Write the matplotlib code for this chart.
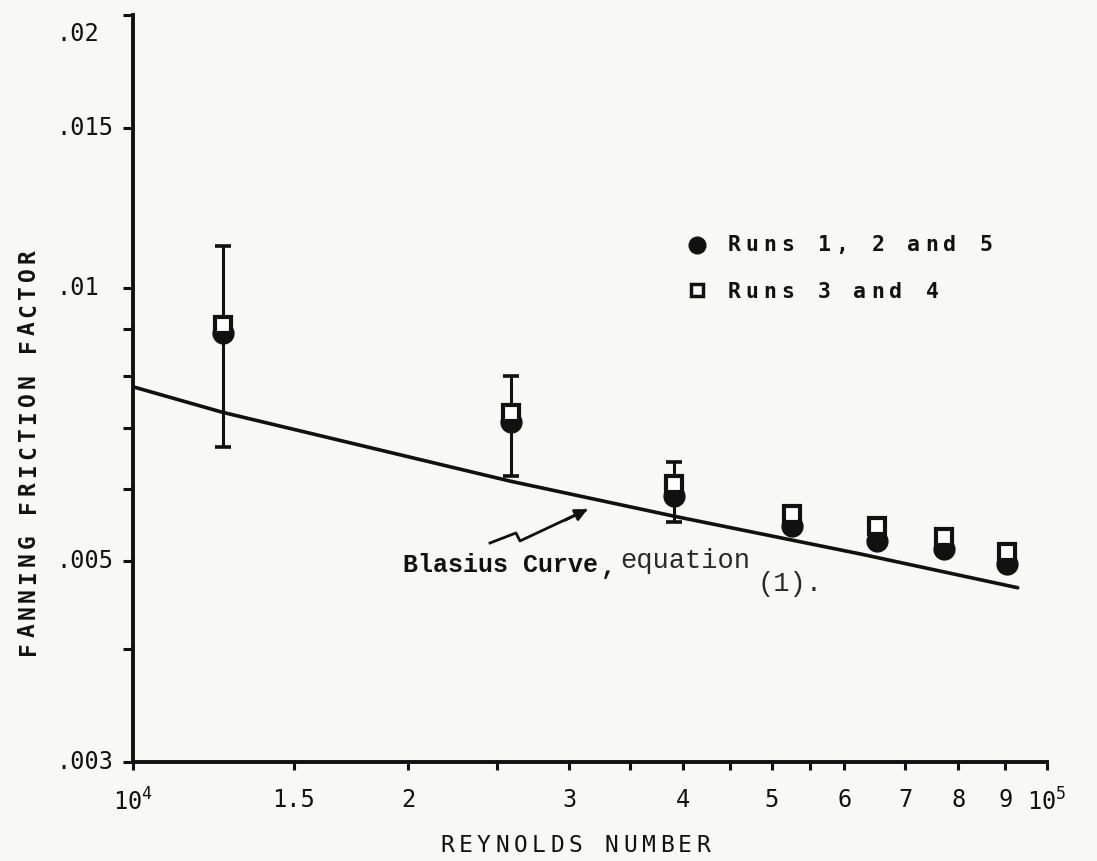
import matplotlib
matplotlib.use('Agg')
import matplotlib.pyplot as plt

plt.rcParams['font.family'] = ['DejaVu Sans Mono']
plt.rcParams['mathtext.fontset'] = 'custom'
plt.rcParams['mathtext.rm'] = 'DejaVu Sans Mono'

INK = '#111111'
PAPER = '#f8f8f6'

# test points (Reynolds number)
re_points = [1.254e4, 2.59e4, 3.91e4, 5.26e4, 6.52e4, 7.71e4, 9.04e4]
# fanning friction factor, runs 1, 2 and 5 (filled circles)
f_runs125 = [0.00892, 0.00711, 0.00589, 0.00546, 0.00526, 0.00515, 0.00496]
# fanning friction factor, runs 3 and 4 (open squares)
f_runs34 = [0.00911, 0.00727, 0.00608, 0.00563, 0.00546, 0.00531, 0.00511]

# scatter bands on the first three points
re_err = [1.254e4, 2.59e4, 3.91e4]
f_err_low = [0.00667, 0.00620, 0.00552]
f_err_high = [0.01112, 0.00800, 0.00642]

# blasius curve
re_blasius = [1.0e4, 1.254e4, 2.59e4, 3.91e4, 6.24e4, 9.29e4]
f_blasius = [0.00778, 0.00729, 0.00612, 0.00560, 0.00509, 0.00467]

# axis ticks
x_ticks = [1e4, 1.5e4, 2e4, 2.5e4, 3e4, 3.5e4, 4e4, 4.5e4, 5e4, 5.5e4, 6e4, 7e4, 8e4, 9e4, 1e5]
x_labels = [r'$\mathregular{10^4}$', '1.5', '2', '', '3', '', '4', '', '5', '', '6', '7', '8', '9',
            r'$\mathregular{10^5}$']
y_ticks = [0.003, 0.004, 0.005, 0.006, 0.007, 0.008, 0.009, 0.01, 0.015, 0.02]
y_label_vals = [0.003, 0.005, 0.01, 0.015, 0.02]
y_label_text = ['.003', '.005', '.01', '.015', '.02']

W, H = 1097, 861
fig = plt.figure(figsize=(W / 100, H / 100), dpi=100, facecolor=PAPER)
ax = fig.add_axes([133 / W, 1 - 762 / H, 914 / W, 747 / H])
ax.set_facecolor(PAPER)


def typed(x, y, s, pitch, size, vertical=False, **kw):
    # typewriter text: one glyph per fixed step (pixel coords, y from top)
    for i, ch in enumerate(s):
        if ch == ' ':
            continue
        if vertical:
            fig.text(x / W, 1 - (y - (i + 0.5) * pitch) / H, ch, rotation=90,
                     rotation_mode='anchor', ha='center', va='baseline',
                     fontsize=size, color=INK, **kw)
        else:
            fig.text((x + (i + 0.5) * pitch) / W, 1 - y / H, ch, ha='center',
                     va='baseline', fontsize=size, color=INK, **kw)


# blasius curve
ax.plot(re_blasius, f_blasius, color=INK, lw=2.6, solid_capstyle='round', zorder=2)

# error bars
yerr = [[m - lo for m, lo in zip(f_runs125[:3], f_err_low)],
        [hi - m for m, hi in zip(f_runs125[:3], f_err_high)]]
ax.errorbar(re_err, f_runs125[:3], yerr=yerr, fmt='none', ecolor=INK, elinewidth=2.2,
            capsize=6, capthick=2.6, zorder=3)

# data
ax.plot(re_points, f_runs125, 'o', ms=15, color=INK, zorder=4)
ax.plot(re_points, f_runs34, 's', ms=12, mfc='white', mec=INK, mew=3, zorder=5)

ax.set_xscale('log')
ax.set_yscale('log')
ax.set_xlim(1e4, 1e5)
ax.set_ylim(0.003, 0.02)

ax.set_xticks(x_ticks)
ax.set_xticklabels(x_labels, fontsize=17)
ax.set_xticks([], minor=True)
ax.set_yticks(y_ticks)
ax.set_yticklabels([''] * len(y_ticks))
ax.set_yticks([], minor=True)
ax.tick_params(axis='both', direction='out', color=INK, width=2.2, labelcolor=INK)
ax.tick_params(axis='x', length=6, pad=13)
ax.tick_params(axis='y', length=7)

for v, t in zip(y_label_vals, y_label_text):
    dy = -14 if t == '.02' else 0
    ax.annotate(t, xy=(0, v), xycoords=('axes fraction', 'data'), xytext=(-55, dy),
                textcoords='offset points', ha='left', va='center', fontsize=17, color=INK)

for side in ['top', 'right']:
    ax.spines[side].set_visible(False)
for side in ['left', 'bottom']:
    ax.spines[side].set_linewidth(2.8)
    ax.spines[side].set_color(INK)

# axis titles
typed(438, 852, 'REYNOLDS NUMBER', 18.3, 16.5)
typed(35, 657, 'FANNING FRICTION FACTOR', 17.8, 16.5, vertical=True, fontweight='bold')

# key
ax.plot([0.617], [0.692], 'o', ms=12, color=INK, transform=ax.transAxes, clip_on=False)
ax.plot([0.617], [0.632], 's', ms=8, mfc='white', mec=INK, mew=2.5,
        transform=ax.transAxes, clip_on=False)
typed(725, 251, 'Runs 1, 2 and 5', 18.0, 15.5, fontweight='bold')
typed(725, 298, 'Runs 3 and 4', 18.0, 15.5, fontweight='bold')

# blasius note
fig.text(403 / W, 1 - 572 / H, 'Blasius Curve', fontsize=18, fontweight='bold',
         family='Liberation Mono', color=INK, ha='left', va='baseline')
fig.text(601 / W, 1 - 574 / H, ',', fontsize=18, fontweight='bold',
         family='Liberation Mono', color=INK, ha='left', va='baseline')
fig.text(620 / W, 1 - 568 / H, 'equation', fontsize=19.5, family='Liberation Mono',
         color='#2a2a2a', ha='left', va='baseline')
fig.text(758 / W, 1 - 591 / H, '(1).', fontsize=19.5, family='Liberation Mono',
         color='#2a2a2a', ha='left', va='baseline')
arrow_x = [0.3906, 0.4190, 0.4234, 0.495]
arrow_y = [0.2932, 0.3066, 0.2959, 0.337]
ax.plot(arrow_x, arrow_y, color=INK, lw=2, transform=ax.transAxes)
ax.annotate('', xy=(0.500, 0.340), xytext=(0.47, 0.322), xycoords='axes fraction',
            arrowprops=dict(arrowstyle='-|>', color=INK, lw=2, mutation_scale=18))

fig.savefig('out.png', dpi=100, facecolor=PAPER)
